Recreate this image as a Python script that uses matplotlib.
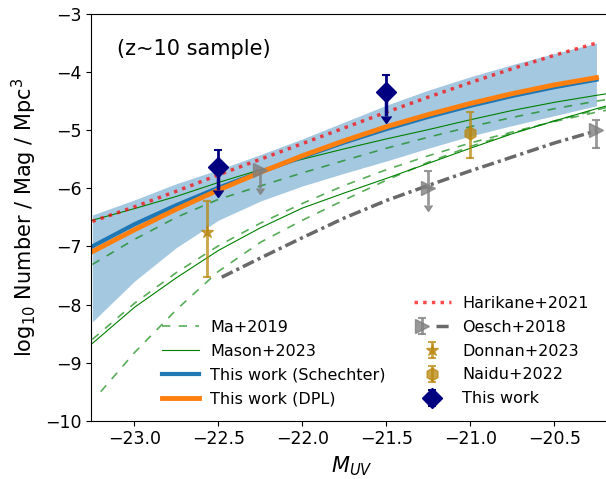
import numpy as np
import matplotlib
matplotlib.use('Agg')
import matplotlib.pyplot as plt
from matplotlib.patches import Rectangle
from matplotlib.legend_handler import HandlerTuple

# ---- curves (M_UV, log10 phi) ----
grid_m = [-23.25, -23.0, -22.75, -22.5, -22.25, -22.0, -21.75, -21.5, -21.25, -21.0, -20.75, -20.5, -20.25]
band_lo = [-8.30, -7.60, -7.02, -6.55, -6.22, -5.96, -5.74, -5.53, -5.31, -5.10, -4.92, -4.75, -4.58]
band_hi = [-6.46, -6.20, -5.92, -5.68, -5.42, -5.15, -4.86, -4.57, -4.31, -4.08, -3.87, -3.68, -3.50]
sch_phi = [-7.00, -6.62, -6.29, -5.99, -5.72, -5.46, -5.21, -4.98, -4.77, -4.58, -4.41, -4.26, -4.13]
dpl_phi = [-7.09, -6.715, -6.36, -6.03, -5.725, -5.44, -5.18, -4.94, -4.73, -4.54, -4.37, -4.22, -4.095]
hari_phi = [-6.57, -6.32, -6.05, -5.77, -5.50, -5.23, -4.96, -4.69, -4.43, -4.18, -3.94, -3.71, -3.50]

ext_m = [-23.25, -23.0, -22.75, -22.5, -22.25, -22.0, -21.75, -21.5, -21.25, -21.0, -20.75, -20.5, -20.25, -20.16]
mason_hi = [-6.55, -6.35, -6.14, -5.90, -5.68, -5.50, -5.32, -5.15, -4.99, -4.82, -4.66, -4.52, -4.40, -4.36]
mason_lo = [-8.67, -8.05, -7.54, -7.07, -6.68, -6.34, -6.08, -5.83, -5.57, -5.31, -5.06, -4.84, -4.63, -4.56]
ma_hi = [-7.31, -6.88, -6.50, -6.19, -5.96, -5.735, -5.52, -5.31, -5.12, -4.94, -4.78, -4.63, -4.50, -4.46]
ma_mid = [-8.60, -7.98, -7.45, -6.99, -6.60, -6.26, -5.95, -5.68, -5.44, -5.22, -5.03, -4.85, -4.69, -4.64]
ma_lo_m = [-23.2, -23.0, -22.75, -22.5, -22.25, -22.0, -21.75, -21.5, -21.25, -21.0, -20.75, -20.5, -20.25, -20.16]
ma_lo = [-9.50, -8.83, -8.09, -7.43, -6.93, -6.55, -6.20, -5.86, -5.55, -5.28, -5.05, -4.84, -4.65, -4.59]

oesch_line_m = [-22.48, -22.25, -22.0, -21.75, -21.5, -21.25, -21.0, -20.75, -20.5, -20.25]
oesch_line = [-7.53, -7.20, -6.85, -6.51, -6.21, -5.95, -5.70, -5.46, -5.22, -5.01]

# ---- data points ----
tw_m = [-22.5, -21.5]
tw_phi = [-5.63, -4.35]
tw_up = [0.29, 0.30]
tw_down = [0.40, 0.41]

oesch_m = [-22.25, -21.25, -20.25]
oesch_phi = [-5.69, -5.99, -5.00]
oesch_lo = [0.30, 0.30, 0.30]
oesch_hi = [0.0, 0.29, 0.18]
oesch_lim = [True, True, False]

donnan_m = [-22.57]
donnan_phi = [-6.75]
donnan_err = [[0.77], [0.53]]

naidu_m = [-21.0]
naidu_phi = [-5.05]
naidu_err = [[0.43], [0.37]]

fig = plt.figure(figsize=(6.06, 4.79), dpi=100)
ax = fig.add_axes([0.1502, 0.1217, 0.859, 0.8491])

ax.fill_between(grid_m, band_lo, band_hi, color='C0', alpha=0.4, lw=0)

ma_kw = dict(color='green', alpha=0.65, lw=1.2, dashes=(5, 5))
l_ma, = ax.plot(ext_m, ma_hi, label='Ma+2019', **ma_kw)
ax.plot(ext_m, ma_mid, **ma_kw)
ax.plot(ma_lo_m, ma_lo, **ma_kw)
l_mason, = ax.plot(ext_m, mason_hi, color='green', lw=0.8, label='Mason+2023')
ax.plot(ext_m, mason_lo, color='green', lw=0.8)

l_sch, = ax.plot(grid_m, sch_phi, color='C0', lw=3, label='This work (Schechter)')
l_dpl, = ax.plot(grid_m, dpl_phi, color='C1', lw=3.5, label='This work (DPL)')
l_hari, = ax.plot(grid_m, hari_phi, color='red', alpha=0.7, lw=2.5, ls=(0, (1, 1.5)), label='Harikane+2021')
l_oesch, = ax.plot(oesch_line_m, oesch_line, color='dimgrey', lw=2.5, dashes=(3.5, 1.2, 0.9, 1.2))

# Oesch+2018 points
for i in range(len(oesch_m)):
    if oesch_lim[i]:
        ax.errorbar([oesch_m[i]], [oesch_phi[i]], yerr=[[0], [oesch_hi[i]]], fmt='>', color='grey',
                    alpha=0.8, ms=10, capsize=3, elinewidth=2, capthick=1.5)
        ax.errorbar([oesch_m[i]], [oesch_phi[i]], yerr=[oesch_lo[i]], uplims=True, fmt='none',
                    color='grey', ecolor='grey', alpha=0.8, elinewidth=2, capsize=3)
    else:
        e_oesch = ax.errorbar([oesch_m[i]], [oesch_phi[i]], yerr=[[oesch_lo[i]], [oesch_hi[i]]], fmt='>',
                              color='grey', alpha=0.8, ms=10, capsize=3, elinewidth=2, capthick=1.5)

gold = 'darkgoldenrod'
e_don = ax.errorbar(donnan_m, donnan_phi, yerr=donnan_err, fmt='*', color=gold, alpha=0.75, ms=9,
                    capsize=3, elinewidth=2, capthick=1.5, label='Donnan+2023')
e_nai = ax.errorbar(naidu_m, naidu_phi, yerr=naidu_err, fmt='h', color=gold, alpha=0.75, ms=9,
                    capsize=3, elinewidth=2, capthick=1.5, label='Naidu+2022')

e_tw = ax.errorbar(tw_m, tw_phi, yerr=[[0, 0], tw_up], fmt='D', color='navy', ms=10, capsize=3,
                   elinewidth=2, capthick=1.5, label='This work', zorder=5)
ax.errorbar(tw_m, tw_phi, yerr=tw_down, uplims=True, fmt='none', color='navy', ecolor='navy',
            elinewidth=2.5, capsize=3.5, zorder=5)

ax.text(0.05, 0.915, '(z~10 sample)', transform=ax.transAxes, fontsize=15, va='center')

ax.set_xlim(-23.258, -20.16)
ax.set_ylim(-10, -3)
ax.set_xticks([-23.0, -22.5, -22.0, -21.5, -21.0, -20.5])
ax.tick_params(labelsize=12.5)
ax.set_xlabel('$M_{UV}$', fontsize=15)
ax.set_ylabel('log$_{10}$ Number / Mag / Mpc$^3$', fontsize=15)

blank = Rectangle((0, 0), 1, 1, fill=False, edgecolor='none', visible=False)
handles = [blank, l_ma, l_mason, l_sch, l_dpl, l_hari, (e_oesch, l_oesch), e_don, e_nai, e_tw]
labels = [' ', 'Ma+2019', 'Mason+2023', 'This work (Schechter)', 'This work (DPL)',
          'Harikane+2021', 'Oesch+2018', 'Donnan+2023', 'Naidu+2022', 'This work']
ax.legend(handles, labels, ncol=2, frameon=False, fontsize=11.5, loc='lower left',
          bbox_to_anchor=(0.124, 0.02), borderaxespad=0, handlelength=2.3, handletextpad=0.7,
          columnspacing=1.8, labelspacing=0.55, handler_map={tuple: HandlerTuple(ndivide=None)})

plt.savefig('out.png', dpi=100)
